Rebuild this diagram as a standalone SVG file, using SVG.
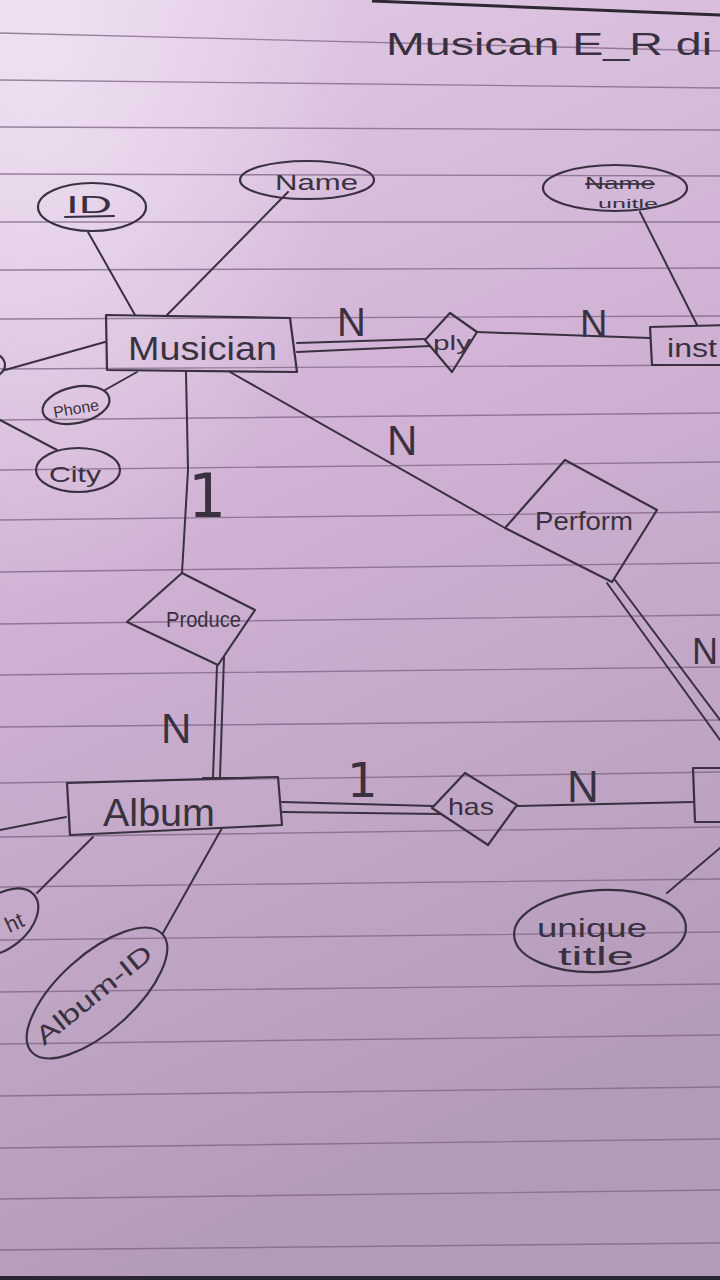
<svg xmlns="http://www.w3.org/2000/svg" width="720" height="1280" viewBox="0 0 720 1280">
<defs>
<linearGradient id="paper" x1="0" y1="0" x2="0.25" y2="1">
<stop offset="0" stop-color="#e2cce6"/>
<stop offset="0.45" stop-color="#d0b2d4"/>
<stop offset="1" stop-color="#b29bb8"/>
</linearGradient>
<radialGradient id="glow" cx="0.05" cy="0.02" r="0.45">
<stop offset="0" stop-color="#f2e6f4" stop-opacity="0.8"/>
<stop offset="1" stop-color="#f2e6f4" stop-opacity="0"/>
</radialGradient>
<style>
.rule{stroke:#7c6184;stroke-width:1.4;opacity:.75;fill:none}
.ink{stroke:#3a3140;stroke-width:2;fill:none;stroke-linecap:round;stroke-linejoin:round}
.shape{stroke:#3a3140;stroke-width:2.2;fill:none;stroke-linejoin:round}
.t{font-family:"Liberation Sans",Arial,sans-serif;fill:#3a3140}
.d{font-family:"DejaVu Sans",sans-serif;fill:#3a3140}
</style>
</defs>
<rect width="720" height="1280" fill="url(#paper)"/>
<rect width="720" height="1280" fill="url(#glow)"/>
<g id="rules">
<path class="rule" d="M0 33 L720 51 M0 80 L720 88 M0 127 L720 130 M0 174 L720 176 M0 222 L720 222 M0 270 L720 268 M0 319 L720 316 M0 369 L720 365 M0 420 L720 413 M0 470 L720 462 M0 520 L720 512 M0 572 L720 563 M0 624 L720 615 M0 675 L720 667 M0 727 L720 720 M0 783 L720 772 M0 837 L720 827 M0 887 L720 879 M0 940 L720 932 M0 992 L720 984 M0 1044 L720 1035 M0 1096 L720 1087 M0 1148 L720 1139 M0 1199 L720 1190 M0 1250 L720 1243"/>
<path d="M372 1 L720 15" stroke="#2e2833" stroke-width="3" fill="none"/>
<rect x="0" y="1276" width="720" height="4" fill="#2a2530"/>
</g>
<text class="t" x="386" y="55" font-size="31" textLength="326" lengthAdjust="spacingAndGlyphs">Musican E_R di</text>
<g id="connectors">
<path class="ink" d="M88 232 L135 315"/>
<path class="ink" d="M288 192 L167 315"/>
<path class="ink" d="M5 370 L105 342"/>
<path class="ink" d="M105 390 L137 372"/>
<path class="ink" d="M0 420 L57 450"/>
<path class="ink" d="M186 372 L188 470 L182 573"/>
<path class="ink" d="M217 666 L213 777 M224 657 L220 777"/>
<path class="ink" d="M203 778 L238 778" stroke-width="3"/>
<path class="ink" d="M0 830 L66 817"/>
<path class="ink" d="M93 837 L37 893"/>
<path class="ink" d="M222 828 L163 933"/>
<path class="ink" d="M282 802 L433 806 M282 812 L440 814"/>
<path class="ink" d="M517 806 L693 802"/>
<path class="ink" d="M720 848 L667 893"/>
<path class="ink" d="M297 343 L425 339 M297 352 L430 346"/>
<path class="ink" d="M477 332 L650 338"/>
<path class="ink" d="M640 212 L697 325"/>
<path class="ink" d="M230 372 L505 528"/>
<path class="ink" d="M607 583 L720 740 M615 580 L720 720"/>
</g>
<g id="musician">
<polygon class="shape" points="106,315 290,318 297,372 107,370"/>
<text class="t" x="128" y="360" font-size="33" textLength="149" lengthAdjust="spacingAndGlyphs">Musician</text>
</g>
<g id="attr-id">
<ellipse class="shape" cx="92" cy="207" rx="54" ry="24"/>
<text class="t" x="66" y="213" font-size="24" textLength="46" lengthAdjust="spacingAndGlyphs">ID</text>
<path class="ink" d="M65 217 L114 216"/>
</g>
<g id="attr-name">
<ellipse class="shape" cx="307" cy="180" rx="67" ry="19"/>
<text class="t" x="275" y="190" font-size="22" textLength="83" lengthAdjust="spacingAndGlyphs">Name</text>
</g>
<g id="attr-left">
<ellipse class="shape" cx="-28" cy="365" rx="33" ry="17"/>
</g>
<g id="attr-phone">
<ellipse class="shape" cx="76" cy="405" rx="34" ry="18" transform="rotate(-12 76 405)"/>
<text class="t" x="53" y="414" font-size="16" textLength="46" lengthAdjust="spacingAndGlyphs" transform="rotate(-10 76 408)">Phone</text>
</g>
<g id="attr-city">
<ellipse class="shape" cx="78" cy="470" rx="42" ry="22"/>
<text class="t" x="49" y="482" font-size="22" textLength="52" lengthAdjust="spacingAndGlyphs">City</text>
</g>
<g id="produce">
<polygon class="shape" points="182,573 255,610 218,665 127,622"/>
<text class="t" x="166" y="627" font-size="22" textLength="75" lengthAdjust="spacingAndGlyphs">Produce</text>
</g>
<g id="album">
<polygon class="shape" points="67,783 278,777 282,825 70,835"/>
<text class="t" x="103" y="826" font-size="38" textLength="112" lengthAdjust="spacingAndGlyphs">Album</text>
</g>
<g id="attr-ht">
<ellipse class="shape" cx="2" cy="922" rx="42" ry="26" transform="rotate(-40 2 922)"/>
<text class="t" x="4" y="930" font-size="22" transform="rotate(-25 14 920)">ht</text>
</g>
<g id="attr-albumid">
<ellipse class="shape" cx="97" cy="993" rx="88" ry="38" transform="rotate(-42 97 993)"/>
<text class="t" x="44" y="1046" font-size="25" textLength="142" lengthAdjust="spacingAndGlyphs" transform="rotate(-39 44 1046)">Album-ID</text>
</g>
<g id="has">
<polygon class="shape" points="465,773 517,805 488,845 432,808"/>
<text class="t" x="448" y="815" font-size="24" textLength="46" lengthAdjust="spacingAndGlyphs">has</text>
</g>
<g id="entity-right">
<polygon class="shape" points="693,768 730,768 730,822 695,822"/>
</g>
<g id="attr-unique">
<ellipse class="shape" cx="600" cy="931" rx="86" ry="41" transform="rotate(-3 600 931)"/>
<text class="t" x="537" y="937" font-size="26" textLength="110" lengthAdjust="spacingAndGlyphs">unique</text>
<text class="t" x="558" y="965" font-size="26" textLength="76" lengthAdjust="spacingAndGlyphs">title</text>
</g>
<g id="play">
<polygon class="shape" points="450,313 477,332 452,372 425,340"/>
<text class="t" x="433" y="350" font-size="20" textLength="38" lengthAdjust="spacingAndGlyphs">ply</text>
</g>
<g id="instrument">
<polygon class="shape" points="650,327 730,325 730,365 652,365"/>
<text class="t" x="667" y="357" font-size="26" textLength="50" lengthAdjust="spacingAndGlyphs">inst</text>
</g>
<g id="attr-name-title">
<ellipse class="shape" cx="615" cy="188" rx="72" ry="23"/>
<text class="t" x="585" y="189" font-size="17" textLength="70" lengthAdjust="spacingAndGlyphs" text-decoration="line-through">Name</text>
<text class="t" x="598" y="208" font-size="13" textLength="60" lengthAdjust="spacingAndGlyphs">unitle</text>
</g>
<g id="perform">
<polygon class="shape" points="565,460 657,510 612,582 505,528"/>
<text class="t" x="535" y="530" font-size="25" textLength="98" lengthAdjust="spacingAndGlyphs">Perform</text>
</g>
<g id="labels">
<text class="t" x="337" y="336" font-size="40">N</text>
<text class="t" x="580" y="337" font-size="38">N</text>
<text class="t" x="387" y="455" font-size="42">N</text>
<text class="d" x="188" y="517" font-size="60">1</text>
<text class="t" x="161" y="743" font-size="42">N</text>
<text class="d" x="347" y="797" font-size="48">1</text>
<text class="t" x="567" y="802" font-size="44">N</text>
<text class="t" x="692" y="664" font-size="36">N</text>
</g>
</svg>
